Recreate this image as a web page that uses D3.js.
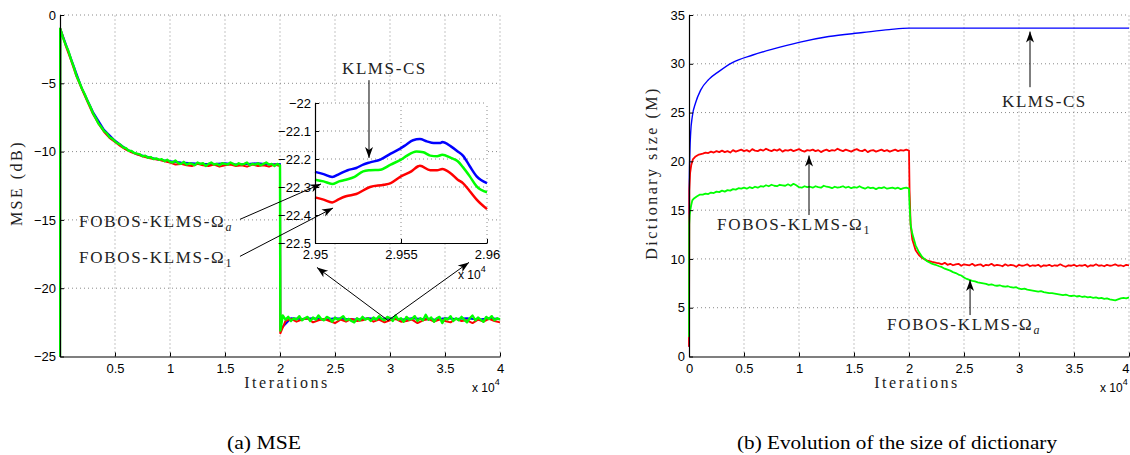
<!DOCTYPE html>
<html><head><meta charset="utf-8">
<script src="https://cdn.jsdelivr.net/npm/d3@7"></script>
<style>body{margin:0;background:#fff}</style>
</head><body><svg id="c" width="1130" height="455"></svg>
<script>
// ---------------- DATA (iterations in units of 10^4) ----------------
// Panel (a): MSE in dB
const mseXTicks = [0.5, 1, 1.5, 2, 2.5, 3, 3.5, 4];
const mseYTicks = [0, -5, -10, -15, -20, -25];
const mseHeadIter = [0, 0.002];
const mseJumpIter = [2.003];
const mseGreenHead = [-25, -1.0];
const mseGreenA = [ // 0.025 .. 2.0 step 0.025
 -1.6,-2.15,-2.6,-3.25,-3.8,-4.45,-4.9,-5.4,-5.8,-6.3,
 -6.7,-7.2,-7.55,-7.95,-8.2,-8.5,-8.65,-8.95,-9.05,-9.25,
 -9.4,-9.5,-9.7,-9.75,-9.95,-9.95,-10.1,-10.15,-10.2,-10.35,
 -10.3,-10.45,-10.4,-10.55,-10.5,-10.6,-10.55,-10.7,-10.6,-10.75,
 -10.8,-10.65,-10.85,-10.9,-10.75,-10.95,-10.85,-10.9,-11.0,-10.8,
 -10.9,-10.85,-11.05,-10.9,-10.8,-10.95,-10.9,-11.0,-10.85,-10.9,
 -10.95,-10.8,-10.9,-11.0,-10.85,-10.95,-10.9,-10.8,-11.0,-10.9,
 -10.95,-10.85,-11.0,-10.9,-10.8,-10.95,-10.9,-11.05,-10.9,-11.0];
const mseGreenJump = [-23.1];
const mseGreenB = [ // 2.025 .. 4.0 step 0.025
 -22.0,-22.3,-22.1,-22.4,-22.2,-22.3,-22.05,-22.35,-22.2,-22.1,
 -22.4,-22.15,-22.3,-22.0,-22.25,-22.35,-22.1,-22.2,-22.45,-22.15,
 -22.3,-22.2,-22.05,-22.35,-22.25,-22.4,-22.5,-22.2,-22.35,-22.1,
 -22.3,-22.2,-22.4,-22.15,-22.3,-22.05,-22.25,-22.35,-22.1,-22.2,
 -22.4,-22.0,-22.3,-22.2,-22.45,-22.1,-22.3,-22.25,-22.05,-22.4,
 -22.2,-22.35,-21.95,-22.3,-22.15,-22.45,-22.2,-22.1,-22.55,-22.2,
 -22.3,-22.05,-22.4,-22.2,-22.35,-22.1,-22.3,-22.5,-22.2,-22.0,
 -22.35,-22.15,-22.3,-22.45,-22.1,-22.25,-22.05,-22.35,-22.2,-22.3];
const mseRedHead = [-25, -1.0];
const mseRedA = [ // 0.05 .. 2.0 step 0.05
 -2.2,-3.3,-4.5,-5.45,-6.35,-7.25,-7.95,-8.55,-9.0,-9.3,
 -9.6,-9.85,-10.05,-10.2,-10.35,-10.45,-10.55,-10.6,-10.7,-10.8,
 -10.95,-10.9,-11.0,-11.05,-10.9,-11.0,-11.05,-10.95,-11.1,-11.0,
 -10.95,-11.05,-11.0,-11.1,-10.95,-11.05,-11.0,-11.1,-10.95,-11.05];
const mseRedJump = [-23.3];
const mseRedB = [ // 2.05 .. 4.0 step 0.05
 -22.4,-22.25,-22.45,-22.3,-22.2,-22.5,-22.35,-22.25,-22.4,-22.55,
 -22.3,-22.45,-22.25,-22.4,-22.35,-22.2,-22.45,-22.3,-22.5,-22.35,
 -22.25,-22.45,-22.4,-22.3,-22.55,-22.35,-22.25,-22.45,-22.3,-22.4,
 -22.5,-22.25,-22.4,-22.35,-22.55,-22.3,-22.45,-22.25,-22.4,-22.5];
const mseBlueHead = [-25, -1.0];
const mseBlueA = [ // 0.1 .. 2.0 step 0.1
 -3.2,-5.4,-7.1,-8.4,-9.2,-9.8,-10.2,-10.4,-10.6,-10.7,
 -10.8,-10.85,-10.9,-10.9,-10.85,-10.95,-10.9,-10.85,-10.95,-10.9];
const mseBlueJump = [-23.0];
const mseBlueB = [ // 2.1 .. 4.0 step 0.1
 -22.2,-22.25,-22.2,-22.3,-22.2,-22.25,-22.3,-22.2,-22.25,-22.2,
 -22.3,-22.2,-22.25,-22.3,-22.2,-22.25,-22.2,-22.3,-22.2,-22.25];

// Inset (zoom of panel a)
const insetXTicks = [2.95, 2.955, 2.96];
const insetYTicks = [-22, -22.1, -22.2, -22.3, -22.4, -22.5];
const insetBlueIter = [2.95,2.9505,2.951,2.9514,2.9519,2.9524,2.9528,2.9532,2.9538,2.9544,2.955,2.9553,2.9557,2.9561,2.9565,2.9569,2.9573,2.9574,2.9579,2.9583,2.9586,2.959,2.9594,2.96];
const insetBlue = [-22.246,-22.254,-22.264,-22.254,-22.24,-22.232,-22.22,-22.212,-22.202,-22.181,-22.161,-22.149,-22.133,-22.129,-22.137,-22.143,-22.143,-22.139,-22.155,-22.173,-22.188,-22.226,-22.262,-22.286];
const insetGreenIter = [2.95,2.9505,2.951,2.9514,2.9518,2.9523,2.9528,2.9532,2.9538,2.9544,2.955,2.9553,2.9559,2.9563,2.9567,2.9571,2.9574,2.9579,2.9583,2.9586,2.959,2.9594,2.96];
const insetGreen = [-22.274,-22.28,-22.289,-22.28,-22.274,-22.264,-22.244,-22.24,-22.238,-22.22,-22.202,-22.19,-22.173,-22.176,-22.188,-22.19,-22.185,-22.196,-22.208,-22.229,-22.262,-22.298,-22.319];
const insetRedIter = [2.95,2.9505,2.951,2.9514,2.9518,2.9524,2.9532,2.954,2.9544,2.955,2.9556,2.956,2.9561,2.9567,2.9571,2.9574,2.9579,2.9583,2.9586,2.959,2.9594,2.96];
const insetRed = [-22.337,-22.345,-22.355,-22.343,-22.333,-22.325,-22.3,-22.292,-22.286,-22.262,-22.244,-22.226,-22.224,-22.24,-22.24,-22.236,-22.252,-22.274,-22.286,-22.315,-22.345,-22.379];

// Panel (b): dictionary size
const dictXTicks = [0, 0.5, 1, 1.5, 2, 2.5, 3, 3.5, 4];
const dictYTicks = [0, 5, 10, 15, 20, 25, 30, 35];
const dictBlueIter = [0,0.002,0.008,0.015,0.03,0.06,0.106,0.18,0.27,0.39,0.58,0.76,1.0,1.27,1.58,1.82,2.0,4.0];
const dictBlue = [1,17,21,22.9,24.6,26.0,27.3,28.4,29.2,30.1,30.9,31.5,32.2,32.8,33.2,33.5,33.65,33.65];
const dictRedHeadIter = [0,0.003,0.01,0.02,0.035,0.06,0.09];
const dictRedHead = [1,17,18.8,19.6,20.2,20.5,20.7];
const dictRedA = [ // 0.125 .. 2.0 step 0.025
 20.8,20.9,20.85,21.0,20.9,21.05,20.95,21.1,20.95,21.05,
 20.9,21.15,21.0,21.1,21.2,21.05,21.15,21.0,21.25,21.1,
 21.05,21.2,21.1,21.3,21.15,21.05,21.2,21.1,21.25,21.0,
 21.15,21.1,21.2,21.05,21.15,21.25,21.1,21.0,21.15,21.1,
 21.2,21.05,21.15,20.95,21.1,21.2,21.05,21.15,21.1,21.3,
 21.15,21.05,21.2,21.1,21.0,21.15,21.25,21.1,21.05,21.2,
 20.95,21.1,21.15,21.0,21.1,21.2,21.05,21.15,21.0,21.1,
 21.2,21.05,21.15,21.1,21.2,21.1];
const dictRedDropIter = [2.005,2.015,2.03,2.06,2.09,2.12,2.16,2.21,2.25];
const dictRedDrop = [17,13.5,12,10.9,10.4,10.1,9.85,9.7,9.6];
const dictRedB = [ // 2.275 .. 4.0 step 0.025
 9.55,9.45,9.6,9.4,9.5,9.35,9.45,9.5,9.3,9.45,
 9.4,9.35,9.5,9.3,9.4,9.45,9.25,9.4,9.35,9.5,
 9.3,9.4,9.35,9.25,9.45,9.3,9.4,9.35,9.2,9.4,
 9.3,9.35,9.45,9.25,9.35,9.3,9.4,9.2,9.35,9.3,
 9.4,9.25,9.35,9.3,9.45,9.3,9.2,9.35,9.3,9.4,
 9.25,9.35,9.3,9.4,9.2,9.35,9.3,9.45,9.3,9.35,
 9.25,9.4,9.3,9.35,9.45,9.3,9.35,9.25,9.4,9.35];
const dictGreenHeadIter = [0,0.002,0.006,0.012,0.02,0.03,0.045,0.07,0.1];
const dictGreenHead = [2,13.5,14.5,15.0,15.5,16.0,16.2,16.4,16.6];
const dictGreenA = [ // 0.125 .. 2.0 step 0.025
 16.6,16.7,16.65,16.8,16.75,16.9,16.85,17.0,16.9,17.05,
 17.0,17.15,17.1,17.25,17.2,17.3,17.2,17.35,17.25,17.4,
 17.3,17.45,17.4,17.55,17.45,17.6,17.5,17.45,17.6,17.55,
 17.5,17.65,17.5,17.7,17.55,17.35,17.3,17.45,17.35,17.4,
 17.3,17.45,17.35,17.3,17.5,17.4,17.35,17.25,17.4,17.3,
 17.35,17.45,17.3,17.4,17.25,17.35,17.3,17.45,17.3,17.2,
 17.35,17.25,17.3,17.15,17.3,17.25,17.35,17.2,17.25,17.3,
 17.2,17.3,17.15,17.25,17.3,17.2];
const dictGreenDropIter = [2.005,2.015,2.03,2.06,2.09,2.12,2.16,2.2,2.24];
const dictGreenDrop = [15.5,13.5,12.6,11.4,10.7,10.2,9.8,9.55,9.4];
const dictGreenB = [ // 2.275 .. 4.0 step 0.025
 9.25,9.15,9.0,8.9,8.8,8.65,8.55,8.4,8.3,8.1,
 7.95,7.85,7.75,7.7,7.6,7.55,7.5,7.45,7.35,7.4,
 7.3,7.25,7.3,7.2,7.15,7.2,7.1,7.05,7.1,6.95,
 6.9,6.95,6.85,6.8,6.75,6.7,6.65,6.7,6.6,6.55,
 6.5,6.5,6.45,6.4,6.35,6.3,6.35,6.25,6.2,6.25,
 6.15,6.2,6.1,6.15,6.05,6.1,6.0,6.05,5.95,6.0,
 5.9,5.95,5.85,5.8,5.75,5.85,5.95,6.0,5.95,6.05];

const colors = {blue:"#0000ff", red:"#ff0000", green:"#00ff00"};

// ---------------- helpers ----------------
const step = (a, b, s) => d3.range(a, b + 1).map(i => +(i * s).toFixed(4));
const zip = (xs, ys) => xs.map((x, i) => [x, ys[i]]).filter(d => d[1] !== undefined);

const svg = d3.select("#c");
const TICKF = "Liberation Sans, Arial, sans-serif";
const SERIF = "Liberation Serif, Times New Roman, serif";

const defs = svg.append("defs");
defs.append("marker").attr("id", "arr")
  .attr("viewBox", "-12 -5 13 10").attr("refX", 0).attr("refY", 0)
  .attr("markerWidth", 13).attr("markerHeight", 10)
  .attr("markerUnits", "userSpaceOnUse").attr("orient", "auto")
  .append("path").attr("d", "M0,0 L-11,-4 L-8,0 L-11,4 Z").attr("fill", "#000");

function grid(g, x, y, xv, yv) {
  const [x0, x1] = x.range(), [y0, y1] = y.range();
  g.selectAll(null).data(xv).join("line")
    .attr("x1", d => x(d)).attr("x2", d => x(d)).attr("y1", y0).attr("y2", y1)
    .attr("stroke", "#8a8a8a").attr("stroke-width", 1).attr("stroke-dasharray", "1,3");
  g.selectAll(null).data(yv).join("line")
    .attr("y1", d => y(d)).attr("y2", d => y(d)).attr("x1", x0).attr("x2", x1)
    .attr("stroke", "#8a8a8a").attr("stroke-width", 1).attr("stroke-dasharray", "1,3");
}
function axes(g, x, y, xt, yt, xfmt, yfmt) {
  const ax = g.append("g").attr("transform", `translate(0,${y.range()[0]})`)
    .call(d3.axisBottom(x).tickValues(xt).tickFormat(xfmt).tickSizeInner(-4).tickSizeOuter(0).tickPadding(7));
  const ay = g.append("g").attr("transform", `translate(${x.range()[0]},0)`)
    .call(d3.axisLeft(y).tickValues(yt).tickFormat(yfmt).tickSizeInner(-4).tickSizeOuter(0).tickPadding(4));
  [ax, ay].forEach(a => {
    a.select(".domain").attr("stroke", "#000").attr("stroke-width", 1.2);
    a.selectAll(".tick line").attr("stroke", "#000");
    a.selectAll("text").attr("font-family", TICKF).attr("font-size", 13).attr("fill", "#000");
  });
  return ax;
}
function drawLine(g, x, y, data, color, w, curve) {
  g.append("path").datum(data)
    .attr("d", d3.line().x(d => x(d[0])).y(d => y(d[1])).curve(curve || d3.curveLinear))
    .attr("fill", "none").attr("stroke", color).attr("stroke-width", w)
    .attr("stroke-linejoin", "round");
}
function serifText(x, y, parts, opts = {}) {
  const t = svg.append("text").attr("x", x).attr("y", y)
    .attr("font-family", SERIF).attr("font-size", opts.size || 17)
    .attr("letter-spacing", opts.ls != null ? opts.ls : 1.7).attr("fill", "#222")
    .attr("text-anchor", opts.anchor || "start");
  if (opts.rotate) t.attr("transform", `rotate(-90,${x},${y})`);
  parts.forEach(p => {
    const s = t.append("tspan").text(p.t);
    if (p.sub) s.attr("font-size", 12).attr("dy", 4).attr("font-style", p.it ? "italic" : "normal");
  });
  return t;
}
function arrow(p, q) {
  svg.append("line").attr("x1", p[0]).attr("y1", p[1]).attr("x2", q[0]).attr("y2", q[1])
    .attr("stroke", "#000").attr("stroke-width", 1).attr("marker-end", "url(#arr)");
}
function times10(x, y) {
  const t = svg.append("text").attr("x", x).attr("y", y).attr("font-family", TICKF)
    .attr("font-size", 12).attr("fill", "#000");
  t.append("tspan").text("x 10");
  t.append("tspan").text("4").attr("font-size", 9).attr("dy", -7);
}

// ---------------- Panel (a) ----------------
const xL = d3.scaleLinear().domain([0, 4]).range([60, 500]);
const yL = d3.scaleLinear().domain([-25, 0]).range([356.5, 15]);
const gA = svg.append("g");
defs.append("clipPath").attr("id", "clipA").append("rect")
  .attr("x", 59).attr("y", 14).attr("width", 443).attr("height", 343);
grid(gA, xL, yL, [0.5, 1, 1.5, 2, 2.5, 3, 3.5, 4], [-20, -15, -10, -5, 0]);
const cA = gA.append("g").attr("clip-path", "url(#clipA)");
const mseBlue = zip([...mseHeadIter, ...step(1, 20, 0.1), ...mseJumpIter, ...step(21, 40, 0.1)],
  [...mseBlueHead, ...mseBlueA, ...mseBlueJump, ...mseBlueB]);
const mseRed = zip([...mseHeadIter, ...step(1, 40, 0.05), ...mseJumpIter, ...step(41, 80, 0.05)],
  [...mseRedHead, ...mseRedA, ...mseRedJump, ...mseRedB]);
const mseGreen = zip([...mseHeadIter, ...step(1, 80, 0.025), ...mseJumpIter, ...step(81, 160, 0.025)],
  [...mseGreenHead, ...mseGreenA, ...mseGreenJump, ...mseGreenB]);
drawLine(cA, xL, yL, mseBlue, colors.blue, 2);
drawLine(cA, xL, yL, mseRed, colors.red, 2);
drawLine(cA, xL, yL, mseGreen, colors.green, 2.4);
axes(gA, xL, yL, mseXTicks, mseYTicks, d3.format("~g"), d3.format("d"));

// Inset
const xI = d3.scaleLinear().domain([2.95, 2.96]).range([315, 487]);
const yI = d3.scaleLinear().domain([-22.5, -22]).range([243, 103]);
const gI = svg.append("g");
gI.append("rect").attr("x", 315).attr("y", 103).attr("width", 172).attr("height", 140).attr("fill", "#fff");
grid(gI, xI, yI, [2.955, 2.96], [-22.4, -22.3, -22.2, -22.1, -22]);
drawLine(gI, xI, yI, zip(insetBlueIter, insetBlue), colors.blue, 2.5, d3.curveMonotoneX);
drawLine(gI, xI, yI, zip(insetGreenIter, insetGreen), colors.green, 2.5, d3.curveMonotoneX);
drawLine(gI, xI, yI, zip(insetRedIter, insetRed), colors.red, 2.5, d3.curveMonotoneX);
axes(gI, xI, yI, insetXTicks, insetYTicks, d3.format("~g"), d3.format("~g"));

// ---------------- Panel (b) ----------------
const xR = d3.scaleLinear().domain([0, 4]).range([689, 1129]);
const yR = d3.scaleLinear().domain([0, 35]).range([356.5, 15]);
const gB = svg.append("g");
grid(gB, xR, yR, [0.5, 1, 1.5, 2, 2.5, 3, 3.5, 4], [5, 10, 15, 20, 25, 30, 35]);
drawLine(gB, xR, yR, zip(dictBlueIter, dictBlue), colors.blue, 1.4, d3.curveMonotoneX);
drawLine(gB, xR, yR, zip([...dictRedHeadIter, ...step(5, 80, 0.025), ...dictRedDropIter, ...step(91, 160, 0.025)],
  [...dictRedHead, ...dictRedA, ...dictRedDrop, ...dictRedB]), colors.red, 1.8);
drawLine(gB, xR, yR, zip([...dictGreenHeadIter, ...step(5, 80, 0.025), ...dictGreenDropIter, ...step(91, 160, 0.025)],
  [...dictGreenHead, ...dictGreenA, ...dictGreenDrop, ...dictGreenB]), colors.green, 1.8);
const axB = axes(gB, xR, yR, dictXTicks, dictYTicks, d3.format("~g"), d3.format("d"));
axB.selectAll(".tick text").filter(d => d === 4).attr("text-anchor", "end").attr("dx", 0);

// ---------------- Labels ----------------
serifText(22, 183, [{t: "MSE (dB)"}], {rotate: true, anchor: "middle", size: 16, ls: 2.5});
serifText(657, 173, [{t: "Dictionary size (M)"}], {rotate: true, anchor: "middle", size: 16, ls: 2.5});
serifText(287, 388, [{t: "Iterations"}], {anchor: "middle", size: 16, ls: 2.5});
serifText(917, 388, [{t: "Iterations"}], {anchor: "middle", size: 16, ls: 2.5});
times10(472, 392);
times10(1100, 392);
times10(458, 279);

// Annotations (panel a)
serifText(342, 74, [{t: "KLMS-CS"}], {ls: 1.6});
serifText(79, 227, [{t: "FOBOS-KLMS-Ω"}, {t: "a", sub: true, it: true}]);
serifText(79, 263, [{t: "FOBOS-KLMS-Ω"}, {t: "1", sub: true}]);
arrow([xL(2.809), yL(-4.77)], [xI(2.95314), yI(-22.196)]);
arrow([xL(1.636), yL(-14.96)], [xI(2.95035), yI(-22.289)]);
arrow([xL(1.636), yL(-17.67)], [xI(2.95105), yI(-22.375)]);
arrow([xL(2.982), yL(-22.36)], [xL(2.336), yL(-18.48)]);
arrow([xL(2.982), yL(-22.36)], [xL(3.718), yL(-18.11)]);

// Annotations (panel b)
serifText(1002, 107, [{t: "KLMS-CS"}], {ls: 1.6});
serifText(717, 230, [{t: "FOBOS-KLMS-Ω"}, {t: "1", sub: true}]);
serifText(887, 330, [{t: "FOBOS-KLMS-Ω"}, {t: "a", sub: true, it: true}]);
arrow([xR(3.1), yR(27.6)], [xR(3.1), yR(33.3)]);
arrow([xR(1.091), yR(14.5)], [xR(1.091), yR(20.6)]);
arrow([xR(2.555), yR(4.25)], [xR(2.555), yR(7.84)]);

// Captions
svg.append("text").attr("x", 227).attr("y", 449).attr("font-family", SERIF).attr("font-size", 18)
  .attr("textLength", 74).attr("lengthAdjust", "spacingAndGlyphs").text("(a) MSE");
svg.append("text").attr("x", 737).attr("y", 449).attr("font-family", SERIF).attr("font-size", 18)
  .attr("textLength", 320).attr("lengthAdjust", "spacingAndGlyphs").text("(b) Evolution of the size of dictionary");
</script></body></html>
